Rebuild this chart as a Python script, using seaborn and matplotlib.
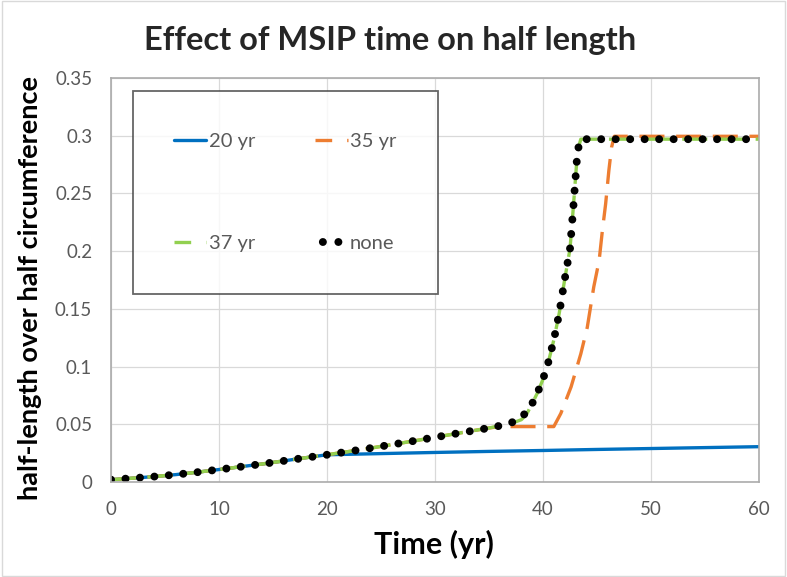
import matplotlib
matplotlib.use("Agg")
import matplotlib.pyplot as plt
from matplotlib.lines import Line2D
from matplotlib.patches import Rectangle
import seaborn as sns
import pandas as pd

# --- data -------------------------------------------------------------
t_20 = [0, 2, 4, 6, 8, 10, 12, 14, 16, 18, 20, 25, 30, 35, 40, 45, 50, 55, 60]
v_20 = [0.0020, 0.0033, 0.0047, 0.0064, 0.0085, 0.0108, 0.0132, 0.0156, 0.0183,
        0.0210, 0.0236, 0.0246, 0.0256, 0.0265, 0.0273, 0.0282, 0.0290, 0.0298, 0.0306]

t_35 = [0, 2, 4, 6, 8, 10, 12, 14, 16, 18, 20, 22, 24, 26, 28, 30, 32, 34, 35, 36,
        41, 41.65, 42.6, 43.5, 44.1, 44.7, 45.2, 45.5, 45.8, 46.1, 46.35, 46.6, 50, 55, 60]
v_35 = [0.0020, 0.0033, 0.0047, 0.0064, 0.0085, 0.0108, 0.0132, 0.0156, 0.0183,
        0.0210, 0.0236, 0.0264, 0.0293, 0.0324, 0.0355, 0.0387, 0.0420, 0.0452, 0.0468,
        0.0480, 0.0480, 0.0594, 0.0824, 0.1110, 0.1340, 0.1690, 0.1920, 0.2180, 0.2410,
        0.2700, 0.2900, 0.2995, 0.2995, 0.2995, 0.2995]

t_37 = [0, 2, 4, 6, 8, 10, 12, 14, 16, 18, 20, 22, 24, 26, 28, 30, 32, 34, 35, 36, 37,
        38, 38.5, 39, 39.5, 40, 40.5, 41, 41.5, 42, 42.5, 42.8, 43.0, 43.2, 43.5, 50, 55, 60]
v_37 = [0.0020, 0.0033, 0.0047, 0.0064, 0.0085, 0.0108, 0.0132, 0.0156, 0.0183,
        0.0210, 0.0236, 0.0264, 0.0293, 0.0324, 0.0355, 0.0387, 0.0420, 0.0452, 0.0468,
        0.0487, 0.0505, 0.0540, 0.0590, 0.0680, 0.0775, 0.0890, 0.1040, 0.1230, 0.1460,
        0.1750, 0.2020, 0.2370, 0.2620, 0.2870, 0.2970, 0.2970, 0.2970, 0.2970]

t_none = [0, 2, 4, 6, 8, 10, 12, 14, 16, 18, 20, 22, 24, 26, 28, 30, 32, 34, 35, 36, 37,
          38, 38.5, 39, 39.5, 40, 40.5, 41, 41.5, 42, 42.5, 42.8, 43.0, 43.2, 43.5, 50, 55, 60]
v_none = [0.0020, 0.0033, 0.0047, 0.0064, 0.0085, 0.0108, 0.0132, 0.0156, 0.0183,
          0.0210, 0.0236, 0.0264, 0.0293, 0.0324, 0.0355, 0.0387, 0.0420, 0.0452, 0.0468,
          0.0487, 0.0510, 0.0560, 0.0610, 0.0680, 0.0775, 0.0890, 0.1040, 0.1230, 0.1460,
          0.1750, 0.2020, 0.2370, 0.2620, 0.2870, 0.2970, 0.2970, 0.2970, 0.2970]

labels = ["20 yr", "35 yr", "37 yr", "none"]
x_ticks = [0, 10, 20, 30, 40, 50, 60]
y_ticks = [0, 0.05, 0.1, 0.15, 0.2, 0.25, 0.3, 0.35]
y_tick_labels = ["0", "0.05", "0.1", "0.15", "0.2", "0.25", "0.3", "0.35"]

# --- style ------------------------------------------------------------
sns.set_theme(style="white")
plt.rcParams["font.family"] = ["Lato", "DejaVu Sans"]

FONT = "Lato"
GREY_TXT = "#595959"
BLUE, ORANGE, GREEN, BLACK = "#0070C0", "#ED7D31", "#92D050", "#000000"

fig = plt.figure(figsize=(7.87, 5.77), dpi=100)
ax = fig.add_axes([111 / 787, 1 - 482 / 577, 648 / 787, 404 / 577])

styles = [
    dict(color=BLUE, lw=2.4, linestyle="-"),
    dict(color=ORANGE, lw=2.4, linestyle=(0, (7.5, 3.5))),
    dict(color=GREEN, lw=2.4, linestyle=(0, (7.5, 3.5))),
    dict(color=BLACK, lw=5.7, linestyle=(0, (0.01, 1.82)), dash_capstyle="round"),
]
series = [(t_20, v_20), (t_35, v_35), (t_37, v_37), (t_none, v_none)]

for (t, v), st in zip(series, styles):
    df = pd.DataFrame({"t": t, "v": v})
    sns.lineplot(data=df, x="t", y="v", ax=ax, estimator=None, sort=False,
                 legend=False, **st)

ax.set_xlim(0, 60)
ax.set_ylim(0, 0.35)
ax.set_xticks(x_ticks)
ax.set_yticks(y_ticks)
ax.set_yticklabels(y_tick_labels)
ax.tick_params(axis="x", length=0, pad=14, labelsize=13.5, labelcolor=GREY_TXT)
ax.tick_params(axis="y", length=0, pad=13.5, labelsize=13.5, labelcolor=GREY_TXT)
for lbl in ax.get_xticklabels() + ax.get_yticklabels():
    lbl.set_fontfamily(FONT)
ax.grid(True, color="#D9D9D9", lw=0.9)
for side in ["left", "bottom", "top", "right"]:
    ax.spines[side].set_color("#ABABAB")
    ax.spines[side].set_linewidth(1.2)

ax.set_xlabel("Time (yr)", fontsize=22, fontweight="bold", color="black",
              fontfamily=FONT)
ax.xaxis.set_label_coords(0.499, -0.118)
ax.set_ylabel("half-length over half circumference", fontsize=19.5,
              fontweight="bold", color="black", fontfamily=FONT)
ax.yaxis.set_label_coords(-0.106, 0.480)
fig.text(0.4956, 1 - 50 / 577, "Effect of MSIP time on half length", ha="center",
         va="baseline", fontsize=23.5, fontweight="bold", fontfamily=FONT)

# legend, filled row by row: 20 yr | 35 yr / 37 yr | none
legend_styles = [dict(st) for st in styles]
legend_styles[1]["linestyle"] = (0, (5.0, 4.5, 1.0, 4.5))
legend_styles[2]["linestyle"] = (0, (5.0, 4.5, 1.0, 4.5))
legend_styles[3]["linestyle"] = (0.97, (0.01, 1.95))
order = [0, 2, 1, 3]
handles = [Line2D([], [], **legend_styles[i]) for i in order]
leg = ax.legend(handles, [labels[i] for i in order], loc="upper left",
                bbox_to_anchor=(0.0335, 0.967),
                ncol=2, frameon=True, fancybox=False, borderaxespad=0,
                prop={"family": FONT, "size": 14.5}, labelcolor=GREY_TXT,
                handlelength=1.6, handletextpad=0.12, columnspacing=3.0,
                labelspacing=4.25, borderpad=2.05)
leg.get_frame().set_edgecolor("#404040")
leg.get_frame().set_linewidth(1.3)

fig.patches.append(Rectangle((0.002, 0.002), 0.996, 0.996, transform=fig.transFigure,
                             fill=False, edgecolor="#D9D9D9", lw=1))

fig.savefig("out.png", dpi=100)
